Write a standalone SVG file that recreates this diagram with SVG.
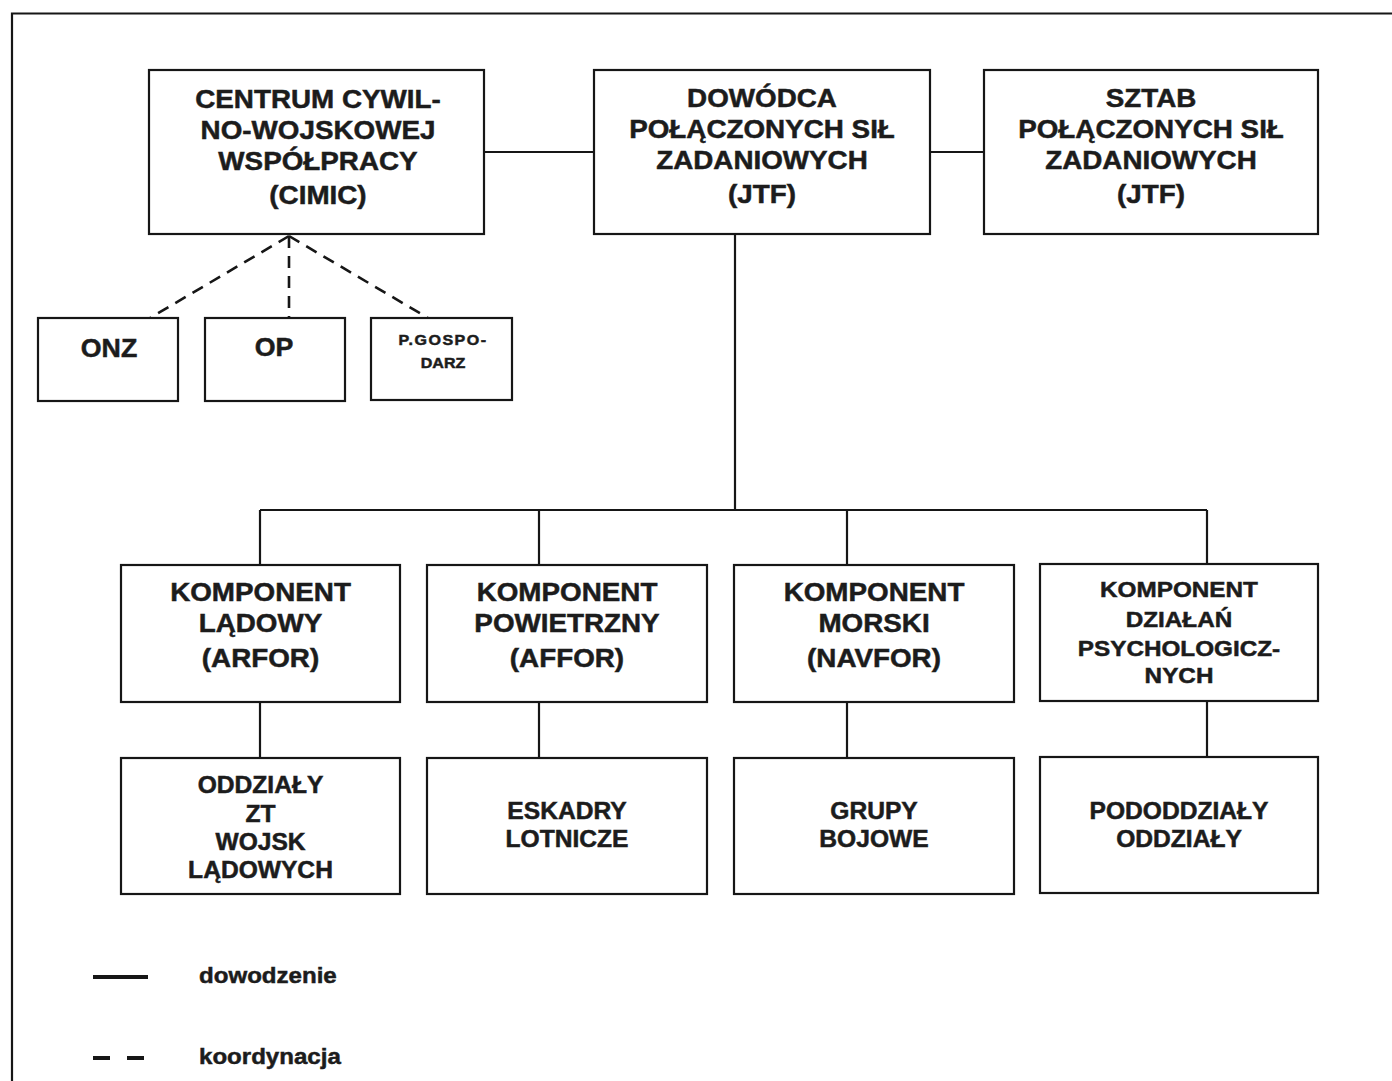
<svg xmlns="http://www.w3.org/2000/svg" width="1392" height="1081" viewBox="0 0 1392 1081">
  <style>
    .box { fill: #ffffff; stroke: #161616; stroke-width: 2.2; }
    .line { fill: none; stroke: #161616; stroke-width: 2.2; }
    .dash { fill: none; stroke: #161616; stroke-width: 2.6; stroke-dasharray: 12 8; }
    text { font-family: "Liberation Sans", Arial, sans-serif; font-weight: bold; fill: #1c1c1c; stroke: #1c1c1c; stroke-width: 0.5; text-anchor: middle; }
    .t26 { font-size: 26px; }
    .t25 { font-size: 25px; }
    .t23 { font-size: 23px; }
    .t22 { font-size: 22.5px; }
    .t15 { font-size: 15px; }
    .legend { font-size: 22.5px; text-anchor: start; }
  </style>

  <rect width="1392" height="1081" fill="#ffffff"/>
  <!-- page frame -->
  <path class="line" d="M 12 1081 V 13.5 H 1392"/>

  <!-- connectors -->
  <g id="connectors">
    <line class="line" x1="484" y1="152" x2="594" y2="152"/>
    <line class="line" x1="930" y1="152" x2="984" y2="152"/>
    <line class="dash" x1="289" y1="236" x2="150" y2="318"/>
    <line class="dash" x1="289" y1="236" x2="289" y2="318"/>
    <line class="dash" x1="289" y1="236" x2="428" y2="318"/>
    <line class="line" x1="735" y1="234" x2="735" y2="510"/>
    <line class="line" x1="260" y1="510" x2="1207" y2="510"/>
    <line class="line" x1="260" y1="510" x2="260" y2="565"/>
    <line class="line" x1="539" y1="510" x2="539" y2="565"/>
    <line class="line" x1="847" y1="510" x2="847" y2="565"/>
    <line class="line" x1="1207" y1="510" x2="1207" y2="565"/>
    <line class="line" x1="260" y1="702" x2="260" y2="758"/>
    <line class="line" x1="539" y1="702" x2="539" y2="758"/>
    <line class="line" x1="847" y1="702" x2="847" y2="758"/>
    <line class="line" x1="1207" y1="702" x2="1207" y2="758"/>
  </g>

  <!-- top row -->
  <g id="cimic">
    <rect class="box" x="149" y="70" width="335" height="164"/>
    <g transform="translate(318 0) scale(1.07 1)">
      <text class="t26"><tspan x="0" y="108">CENTRUM CYWIL-</tspan><tspan x="0" y="139">NO-WOJSKOWEJ</tspan><tspan x="0" y="170">WSPÓŁPRACY</tspan><tspan x="0" y="204">(CIMIC)</tspan></text>
    </g>
  </g>
  <g id="dowodca">
    <rect class="box" x="594" y="70" width="336" height="164"/>
    <g transform="translate(762 0) scale(1.07 1)">
      <text class="t26"><tspan x="0" y="107">DOWÓDCA</tspan><tspan x="0" y="138">POŁĄCZONYCH SIŁ</tspan><tspan x="0" y="169">ZADANIOWYCH</tspan><tspan x="0" y="203">(JTF)</tspan></text>
    </g>
  </g>
  <g id="sztab">
    <rect class="box" x="984" y="70" width="334" height="164"/>
    <g transform="translate(1151 0) scale(1.07 1)">
      <text class="t26"><tspan x="0" y="107">SZTAB</tspan><tspan x="0" y="138">POŁĄCZONYCH SIŁ</tspan><tspan x="0" y="169">ZADANIOWYCH</tspan><tspan x="0" y="203">(JTF)</tspan></text>
    </g>
  </g>

  <!-- coordination partners -->
  <g id="onz">
    <rect class="box" x="38" y="318" width="140" height="83"/>
    <g transform="translate(109 0) scale(1.07 1)">
      <text class="t25" x="0" y="357">ONZ</text>
    </g>
  </g>
  <g id="op">
    <rect class="box" x="205" y="318" width="140" height="83"/>
    <g transform="translate(274 0) scale(1.07 1)">
      <text class="t25" x="0" y="356">OP</text>
    </g>
  </g>
  <g id="pgospodarz">
    <rect class="box" x="371" y="318" width="141" height="82"/>
    <g transform="translate(443 0) scale(1.07 1)">
      <text class="t15"><tspan x="0" y="345" letter-spacing="1.4">P.GOSPO-</tspan><tspan x="0" y="368">DARZ</tspan></text>
    </g>
  </g>

  <!-- components -->
  <g id="arfor">
    <rect class="box" x="121" y="565" width="279" height="137"/>
    <g transform="translate(260.5 0) scale(1.07 1)">
      <text class="t26"><tspan x="0" y="601">KOMPONENT</tspan><tspan x="0" y="632">LĄDOWY</tspan><tspan x="0" y="667">(ARFOR)</tspan></text>
    </g>
  </g>
  <g id="affor">
    <rect class="box" x="427" y="565" width="280" height="137"/>
    <g transform="translate(567 0) scale(1.07 1)">
      <text class="t26"><tspan x="0" y="601">KOMPONENT</tspan><tspan x="0" y="632">POWIETRZNY</tspan><tspan x="0" y="667">(AFFOR)</tspan></text>
    </g>
  </g>
  <g id="navfor">
    <rect class="box" x="734" y="565" width="280" height="137"/>
    <g transform="translate(874 0) scale(1.07 1)">
      <text class="t26"><tspan x="0" y="601">KOMPONENT</tspan><tspan x="0" y="632">MORSKI</tspan><tspan x="0" y="667">(NAVFOR)</tspan></text>
    </g>
  </g>
  <g id="psyops">
    <rect class="box" x="1040" y="564" width="278" height="137"/>
    <g transform="translate(1179 0) scale(1.08 1)">
      <text class="t22"><tspan x="0" y="597">KOMPONENT</tspan><tspan x="0" y="627">DZIAŁAŃ</tspan><tspan x="0" y="656">PSYCHOLOGICZ-</tspan><tspan x="0" y="683">NYCH</tspan></text>
    </g>
  </g>

  <!-- subordinate units -->
  <g id="oddzialy-zt">
    <rect class="box" x="121" y="758" width="279" height="136"/>
    <g transform="translate(260.5 0) scale(1.07 1)">
      <text class="t23"><tspan x="0" y="793">ODDZIAŁY</tspan><tspan x="0" y="822">ZT</tspan><tspan x="0" y="850">WOJSK</tspan><tspan x="0" y="878">LĄDOWYCH</tspan></text>
    </g>
  </g>
  <g id="eskadry">
    <rect class="box" x="427" y="758" width="280" height="136"/>
    <g transform="translate(567 0) scale(1.07 1)">
      <text class="t23"><tspan x="0" y="819">ESKADRY</tspan><tspan x="0" y="847">LOTNICZE</tspan></text>
    </g>
  </g>
  <g id="grupy">
    <rect class="box" x="734" y="758" width="280" height="136"/>
    <g transform="translate(874 0) scale(1.07 1)">
      <text class="t23"><tspan x="0" y="819">GRUPY</tspan><tspan x="0" y="847">BOJOWE</tspan></text>
    </g>
  </g>
  <g id="pododdzialy">
    <rect class="box" x="1040" y="757" width="278" height="136"/>
    <g transform="translate(1179 0) scale(1.07 1)">
      <text class="t23"><tspan x="0" y="819">PODODDZIAŁY</tspan><tspan x="0" y="847">ODDZIAŁY</tspan></text>
    </g>
  </g>

  <!-- legend -->
  <g id="legend">
    <line x1="93" y1="977" x2="148" y2="977" stroke="#161616" stroke-width="4"/>
    <line x1="93" y1="1058" x2="146" y2="1058" stroke="#161616" stroke-width="4" stroke-dasharray="17 17"/>
    <g transform="translate(199 0) scale(1.07 1)">
      <text class="legend" x="0" y="983">dowodzenie</text>
      <text class="legend" x="0" y="1064">koordynacja</text>
    </g>
  </g>
</svg>
